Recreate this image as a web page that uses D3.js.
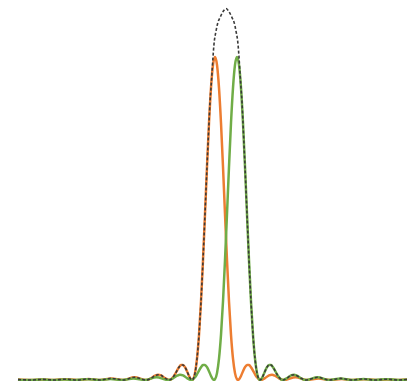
<!DOCTYPE html>
<html>
<head>
<meta charset="utf-8">
<script src="https://cdn.jsdelivr.net/npm/d3@7"></script>
<style>
html,body{margin:0;padding:0;background:#fff;}
svg{display:block;}
</style>
</head>
<body>
<svg id="chart" width="407" height="381"></svg>
<script>
// Positions (arbitrary units) and normalized intensities
const orangeX = [18,31,42.5,54,65.5,77,88.5,100,111.5,123,134.5,146,151,155,158,161,165,169,171,173,175,177,179,181,183,185,187,189,191,192,193,195,197,199,201,203,205,207,209,211,213,215,217,219,221,223,225,227,229,231,233,235,237,238,239,241,243,245,247,249,251,253,255,257,259,261,265,269,272,275,279,284,295.5,307,318.5,330,341.5,353,364.5,376,387.5,399,407];
const orangeY = [0.0013,0,0.0018,0,0.0024,0,0.0033,0,0.005,0,0.0083,0,0.0052,0.0132,0.0164,0.0145,0.0058,0,0.002,0.0082,0.0179,0.0293,0.0396,0.0462,0.0465,0.0398,0.0272,0.0126,0.0017,0,0.0021,0.0213,0.0659,0.1398,0.2429,0.3705,0.5138,0.6601,0.7955,0.9044,0.9754,1,0.9754,0.9044,0.7955,0.6601,0.5138,0.3705,0.2429,0.1398,0.0659,0.0213,0.0021,0,0.0017,0.0126,0.0272,0.0398,0.0465,0.0462,0.0396,0.0293,0.0179,0.0082,0.002,0,0.0058,0.0145,0.0164,0.0132,0.0052,0,0.0083,0,0.005,0,0.0033,0,0.0024,0,0.0018,0,0.0012];

const greenX = [18,30,41.5,53,64.5,76,87.5,99,110.5,122,133.5,145,156.5,168,173,177,180,183,187,191,193,195,197,199,201,203,205,207,209,211,213,214,215,217,219,221,223,225,227,229,231,233,235,237,239,241,243,245,247,249,251,253,255,257,259,260,261,263,265,267,269,271,273,275,277,279,281,283,287,291,294,297,301,306,317.5,329,340.5,352,363.5,375,386.5,398,407];
const greenY = [0.0011,0,0.0014,0,0.0018,0,0.0024,0,0.0033,0,0.005,0,0.0083,0,0.0052,0.0132,0.0164,0.0145,0.0058,0,0.002,0.0082,0.0179,0.0293,0.0396,0.0462,0.0465,0.0398,0.0272,0.0126,0.0017,0,0.0021,0.0213,0.0659,0.1398,0.2429,0.3705,0.5138,0.6601,0.7955,0.9044,0.9754,1,0.9754,0.9044,0.7955,0.6601,0.5138,0.3705,0.2429,0.1398,0.0659,0.0213,0.0021,0,0.0017,0.0126,0.0272,0.0398,0.0465,0.0462,0.0396,0.0293,0.0179,0.0082,0.002,0,0.0058,0.0145,0.0164,0.0132,0.0052,0,0.0083,0,0.005,0,0.0033,0,0.0024,0,0.0016];

const totalX = [18,31,42.5,54,65.5,77,88.5,100,111.5,123,134.5,146,151,155,158,161,165,169,171,173,175,177,179,181,183,185,187,189,191,192,193,195,197,199,201,203,205,207,209,210,211,212,213,214,216,218,220,222,224,226,228,230,232,234,236,238,239,240,241,242,243,245,247,249,251,253,255,257,259,260,261,263,265,267,269,271,273,275,277,279,281,283,287,291,294,297,301,306,317.5,329,340.5,352,363.5,375,386.5,398,407];
const totalY = [0.0013,0,0.0018,0,0.0024,0,0.0033,0,0.005,0,0.0083,0,0.0052,0.0132,0.0164,0.0145,0.0058,0,0.002,0.0082,0.0179,0.0293,0.0396,0.0462,0.0465,0.0398,0.0272,0.0126,0.0017,0,0.0021,0.0213,0.0659,0.1398,0.2429,0.3705,0.5138,0.6601,0.7955,0.86,0.905,0.95,1.0,1.04,1.08,1.108,1.122,1.135,1.145,1.15,1.145,1.135,1.122,1.108,1.08,1.04,1.0,0.95,0.905,0.86,0.7955,0.6601,0.5138,0.3705,0.2429,0.1398,0.0659,0.0213,0.0021,0,0.0017,0.0126,0.0272,0.0398,0.0465,0.0462,0.0396,0.0293,0.0179,0.0082,0.002,0,0.0058,0.0145,0.0164,0.0132,0.0052,0,0.0083,0,0.005,0,0.0033,0,0.0024,0,0.0016];

const W = 407, H = 381;
const svg = d3.select("#chart");
const x = d3.scaleLinear().domain([0, 407]).range([0, 407]);
const y = d3.scaleLinear().domain([0, 1]).range([380, 57]);

const line = d3.line()
  .x(d => x(d[0]))
  .y(d => y(d[1]))
  .curve(d3.curveMonotoneX);

const series = [
  {xs: orangeX, ys: orangeY, color: "#ED7D31", width: 2.5, dash: null},
  {xs: greenX, ys: greenY, color: "#70AD47", width: 2.5, dash: null},
  {xs: totalX, ys: totalY, color: "#3a3a3a", width: 1.6, dash: "3,2"}
];

series.forEach(s => {
  const pts = s.xs.map((v, i) => [v, s.ys[i]]);
  const p = svg.append("path")
    .datum(pts)
    .attr("fill", "none")
    .attr("stroke", s.color)
    .attr("stroke-width", s.width)
    .attr("stroke-linejoin", "round")
    .attr("d", line);
  if (s.dash) p.attr("stroke-dasharray", s.dash);
});
</script>
</body>
</html>
